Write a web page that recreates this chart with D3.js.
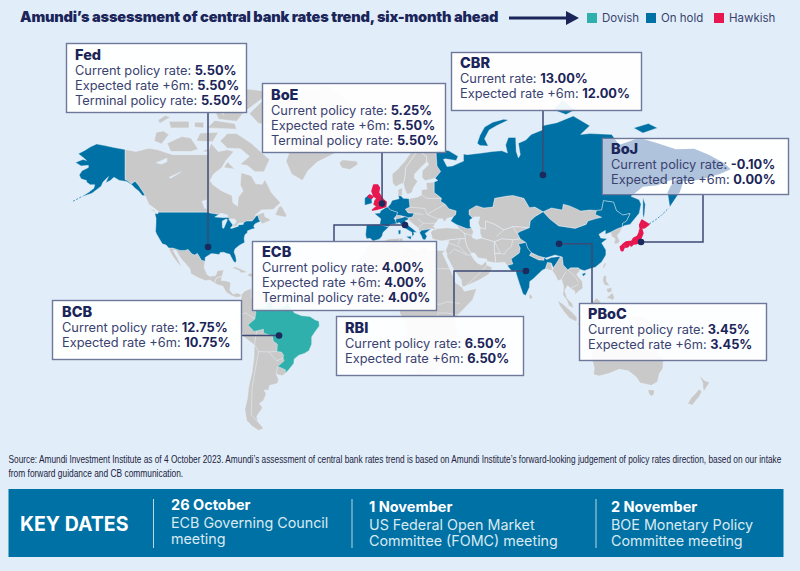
<!DOCTYPE html>
<html><head><meta charset="utf-8">
<script src="https://cdn.jsdelivr.net/npm/d3@7"></script>
<style>html,body{margin:0;padding:0;background:#e1eef9}svg{display:block}</style></head>
<body><svg id="c" width="800" height="571"></svg>
<script>
// ---------- chart data ----------
const bankNames=["Fed","BoE","CBR","BoJ","ECB","BCB","RBI","PBoC"];
const currentLabels=["Current policy rate: ","Current policy rate: ","Current rate: ","Current policy rate: ","Current policy rate: ","Current policy rate: ","Current policy rate: ","Current policy rate: "];
const currentRates=["5.50%","5.25%","13.00%","-0.10%","4.00%","12.75%","6.50%","3.45%"];
const expectedRates=["5.50%","5.50%","12.00%","0.00%","4.00%","10.75%","6.50%","3.45%"];
const terminalRates=["5.50%","5.50%",null,null,"4.00%",null,null,null];
const bankAnchors=[[-95.6,33],[-0.5,52.2],[87.4,61.7],[141,35.5],[12,43.2],[-56.8,-13.2],[78.1,20.9],[96.2,34.6]];
const legendLabels=["Dovish","On hold","Hawkish"];
const keyDates=["26 October","1 November","2 November"];
const keyEvents=[["ECB Governing Council","meeting"],["US Federal Open Market","Committee (FOMC) meeting"],["BOE Monetary Policy","Committee meeting"]];
const sourceLines=["Source: Amundi Investment Institute as of 4 October 2023. Amundi’s assessment of central bank rates trend is based on Amundi Institute’s forward-looking judgement of policy rates direction, based on our intake","from forward guidance and CB communication."];

// ---------- land shapes, lon/lat ----------
const usa=[[-124.7,48.4],[-123,48.3],[-122.8,49],[-95.2,49],[-94.6,48.7],[-92,48.3],[-89.6,48],[-88.4,48.3],[-84.9,46.9],[-84.5,46.5],[-83.5,46],[-82.5,45.3],[-82.1,43.6],[-82.5,42.6],[-83.1,42],[-82.7,41.7],[-79,42.7],[-79.1,43.4],[-76.8,43.6],[-76.3,44.2],[-74.7,45],[-71.5,45],[-70.3,46.2],[-69.2,47.4],[-68.2,47.3],[-67.8,45.7],[-67,44.8],[-68.5,44.3],[-70,43.7],[-70.7,42.7],[-70,41.7],[-71.5,41.4],[-74,40.6],[-74.2,39.6],[-75.4,38.9],[-75.9,37.2],[-75.6,35.3],[-77,34.6],[-78.6,33.8],[-80.9,32],[-81.4,30.5],[-80.5,28.3],[-80.1,26],[-80.7,25.1],[-81.8,26],[-82.8,27.8],[-83.8,29.5],[-85.3,29.7],[-87,30.4],[-89,30.3],[-89.4,29.2],[-91.5,29.5],[-93.8,29.7],[-95.5,28.8],[-97.2,27.7],[-97.2,25.9],[-99.2,26.4],[-101.4,29.8],[-103,29],[-104.5,29.6],[-106.5,31.8],[-108.2,31.3],[-111,31.3],[-114.8,32.5],[-117.1,32.5],[-118.5,34],[-120.6,34.6],[-122,36.7],[-123.8,39.3],[-124.3,40.4],[-124.1,43],[-124,46.2]];
const alaska=[[-141,69.6],[-141,60.3],[-139.5,59.9],[-137.5,58.9],[-135.5,59.8],[-133.5,58.4],[-131,56],[-130,55],[-131.5,55],[-133.5,56.5],[-135.5,57.5],[-137,58.5],[-140,59.7],[-144,60],[-147,61],[-149,60],[-151.5,59.3],[-150,61.2],[-153,59.5],[-154,58.2],[-156.5,57],[-159,55.8],[-163,54.9],[-165,54.5],[-161,56],[-158,57.5],[-157.5,58.7],[-160,58.7],[-162,59.5],[-162,60],[-165,60.5],[-166,61.7],[-164.5,63],[-161,64],[-161,64.7],[-165,64.5],[-168,65.6],[-164,66.5],[-162,66.2],[-163.5,67],[-166.5,68.3],[-163,69.3],[-160,70.4],[-156.5,71.3],[-152,70.8],[-147,70.2]];
const canada=[[-141,69.6],[-135,69],[-128,70],[-123,69.5],[-115,68],[-108,68],[-100,68],[-96,68],[-94,71.5],[-90,69],[-85,69.5],[-81.5,69],[-86,66],[-88,64],[-92.5,62],[-94.5,60],[-93,58.7],[-88,56.5],[-82.5,55],[-82,52.5],[-79.5,51.3],[-79,54.5],[-76.5,56.5],[-78,58.7],[-77.5,62.4],[-72,61.5],[-69.5,59],[-66,58.8],[-64.5,60.3],[-61,56],[-56,52.5],[-60,50.2],[-66.5,50],[-70,47.5],[-65,49],[-64.5,47],[-61,45.5],[-66,43.7],[-67,44.8],[-67.8,45.7],[-68.2,47.3],[-69.2,47.4],[-70.3,46.2],[-71.5,45],[-74.7,45],[-76.3,44.2],[-79.1,43.4],[-79,42.7],[-82.7,41.7],[-82.5,42.6],[-82.1,43.6],[-82.5,45.3],[-84.5,46.5],[-84.9,46.9],[-88.4,48.3],[-89.6,48],[-92,48.3],[-94.6,48.7],[-95.2,49],[-122.8,49],[-123,49.5],[-128,52],[-130,55],[-131,56],[-133.5,58.4],[-135.5,59.8],[-137.5,58.9],[-139.5,59.9],[-141,60.3]];
const baffin=[[-80,73.7],[-72,71.5],[-67,69],[-62,66.5],[-65,62.7],[-70,62.7],[-74,64.6],[-78,65],[-73,67.5],[-78,69.8],[-85,70],[-89,72],[-85,73.7]];
const victoria=[[-105,69],[-101,69.7],[-105,72.7],[-110,73],[-118,71.5],[-116,69]];
const banks=[[-125,72],[-121,71.3],[-117,73.5],[-120,74.3],[-124,74]];
const ellesmere=[[-90,77],[-80,76.5],[-76,78.5],[-65,81.5],[-62,82.5],[-75,83],[-90,81.5],[-92,79]];
const devon=[[-96,75],[-80,74.7],[-81,76],[-92,76.7]];
const melville=[[-116,75],[-106,75],[-106,76.5],[-117,76.5]];
const somerset=[[-102,72],[-93,71.8],[-90,74],[-100,73.8]];
const southampton=[[-87,64],[-81,63.5],[-85,65.8]];
const axelHeiberg=[[-95,80],[-87,78],[-88,80],[-95,81.3]];
const princePatrick=[[-122,76],[-116,77.5],[-119,77.8],[-123,76.8]];
const kingWilliam=[[-99,69],[-95.5,68.8],[-96,69.8]];
const bathurst=[[-103,75.2],[-98,75],[-98,76.3],[-103,76.3]];
const newfoundland=[[-59,47.7],[-53,46.7],[-52.7,47.7],[-55.5,51.5],[-57,51]];
const vancouver=[[-128.3,50.7],[-123.5,48.4],[-125,50]];
const greenland=[[-73,78.2],[-68,76],[-58,75.5],[-54,70],[-51,69],[-53,66],[-50,62],[-44,60],[-41,63],[-36,65.7],[-26,68.5],[-22,70.5],[-20,74],[-19,78],[-18,80.5],[-30,83.5],[-45,82.5],[-60,82],[-66,80.8]];
const iceland=[[-24,65.5],[-22,66.4],[-18,66.2],[-14.5,66],[-13.6,65],[-18,63.4],[-22.5,63.9]];
const mexico=[[-117.1,32.5],[-114.8,32.5],[-111,31.3],[-108.2,31.3],[-106.5,31.8],[-104.5,29.6],[-103,29],[-101.4,29.8],[-99.2,26.4],[-97.2,25.9],[-97.7,22.5],[-96,19],[-94.5,18.2],[-91.5,18.5],[-90.5,21],[-87,21.5],[-87.8,18.3],[-89.2,17.8],[-91,17.2],[-92.2,14.6],[-94.5,16.2],[-97,15.9],[-101,17.4],[-105,19.5],[-105.5,22],[-109,25.8],[-111,28],[-113,31.2],[-114.8,31.5],[-112,27],[-110,23],[-112,24.8],[-115,28.5],[-116.5,31]];
const centralAmerica=[[-92.2,14.6],[-91,17.2],[-89.2,17.8],[-87.8,18.3],[-88.5,16],[-86,15.9],[-83.2,15],[-83.7,11],[-82,9],[-79.5,9.6],[-77.4,8.7],[-78,7.5],[-80.5,7.3],[-83,8.3],[-85.8,10],[-87.5,13],[-90,13.7]];
const cuba=[[-85,21.9],[-80.5,23.1],[-75,20.7],[-74.2,20.1],[-77.5,19.9],[-78.5,21],[-82,22.3]];
const hispaniola=[[-74.4,18.4],[-72.8,19.9],[-68.4,18.7],[-70,18.2],[-71.7,17.8]];
const southAmerica=[[-77.4,8.7],[-75.6,10.6],[-72,12],[-71.5,10.8],[-68,10.8],[-64,10.5],[-60,8.5],[-57,6],[-54,5.8],[-51.7,4.2],[-50,1],[-48.5,-1],[-44.5,-2.5],[-40,-2.9],[-37,-4.8],[-35,-5.5],[-34.8,-8],[-37,-11],[-39,-14],[-39,-18],[-40.5,-21.5],[-43,-23],[-46,-24],[-48.5,-26],[-48.8,-28.5],[-52,-32.5],[-53.5,-34],[-55,-34.9],[-58.3,-34.2],[-57,-36.5],[-57.7,-38.2],[-62,-39],[-62.5,-41],[-65,-41],[-63.8,-42.5],[-65.3,-45],[-67.5,-46],[-65.8,-47.5],[-69,-50.5],[-68.3,-52.5],[-65.2,-54.8],[-68,-55.5],[-71.5,-54],[-74.5,-52],[-75.5,-48],[-74,-44],[-73.5,-40],[-71.5,-33],[-70.5,-25],[-70.3,-18.4],[-76,-14],[-79,-8],[-81.2,-6],[-81,-3],[-80,-2.5],[-80.8,0],[-78.7,2],[-77.3,4],[-77.5,7]];
const brazil=[[-51.7,4.2],[-50,1],[-48.5,-1],[-44.5,-2.5],[-40,-2.9],[-37,-4.8],[-35,-5.5],[-34.8,-8],[-37,-11],[-39,-14],[-39,-18],[-40.5,-21.5],[-43,-23],[-46,-24],[-48.5,-26],[-48.8,-28.5],[-52,-32.5],[-53.5,-33.7],[-53.2,-32],[-55.8,-30.8],[-57.6,-30.2],[-54,-27],[-54.6,-25.5],[-54.3,-24],[-55.5,-22.3],[-58,-22],[-57.7,-18],[-60,-16.3],[-60.3,-13.7],[-65.3,-11.8],[-65.3,-9.8],[-70.5,-11],[-73.8,-7.5],[-70,-4.3],[-69.5,-1],[-70,1.7],[-67,1.8],[-64,2],[-64,4],[-60.7,5.1],[-60,1.5],[-57,2],[-54.6,2.3]];
const africa=[[-5.9,35.8],[-2,35.1],[3,36.9],[10,37.3],[11,37],[10.2,34],[12,32.9],[15.5,32.3],[20,31],[20,32.8],[23,32.5],[25,31.5],[32,31.2],[34.2,31.3],[32.5,29.9],[34,27],[37,21],[38.5,18],[39.5,15],[43.2,12.5],[44.5,10.5],[51.2,11.9],[49,6],[44,1],[41,-2],[39,-5],[40.5,-11],[40.5,-15],[35,-20],[35.5,-24],[32.8,-26],[32.5,-28.5],[28,-33],[25,-34],[20,-34.8],[18.3,-34],[17,-29.5],[15,-26.5],[14.5,-22],[11.8,-17],[13.5,-12],[12,-6],[9,-1],[9.5,4],[8.5,4.5],[5.5,4.5],[1,6],[-4,5.2],[-7.5,4.4],[-12,7.5],[-15,11],[-17.5,14.7],[-16,19],[-17,21],[-13,27.5],[-9.7,30],[-9.5,32.5],[-6.8,34.2]];
const madagascar=[[49.3,-12],[50.5,-16],[47.2,-25],[45,-25.5],[43.3,-22],[44.5,-16],[47,-15.5]];
const russia=[[31,69.7],[36,69.2],[41,67.5],[40,66.2],[34,66.7],[33,66.5],[35,64.3],[38,64.5],[40,65],[44,66],[44,68.2],[46,68],[54,68.5],[60,69],[65,69.2],[68,68.5],[67,71],[68.5,72.8],[72.5,72.8],[72.8,69],[74,67],[75,68],[74,71.5],[78,72.2],[81,73.5],[87,74.5],[87,75.5],[95,76.2],[104,77.7],[113,75.5],[108,73.5],[113,73.7],[125,73.5],[129,71],[140,72.7],[150,71.5],[160,69.7],[170,69.8],[178,68],[186,65.5],[190,63.5],[184,62],[175,60.5],[170,60],[164,59.8],[163,57.5],[162,56],[156.7,51],[155.5,56],[157,58],[160,60.5],[155,59.7],[150,58.5],[142,58],[135.5,54.7],[140,53.5],[141,52],[140,48.5],[135,43.5],[132,43],[130.7,42.3],[130.9,44],[133,45],[135,48.4],[131,47.7],[127.5,49.8],[126,52.7],[120.5,53.2],[119.5,50],[116.7,49.8],[113,50],[108,49.5],[106,50.3],[102,51.4],[98.5,52],[98,50],[92,50.7],[87.5,49.2],[83,51],[80,50.8],[77,54],[71,55],[68,54.8],[61,54],[60,51],[55,50.7],[51,51.5],[47,50],[47,48],[49,46.3],[47.5,45.5],[47.7,42.5],[48.5,41.8],[46,41.5],[40,43.5],[37,45],[38.5,47],[39.7,47.9],[40,49.6],[36,50.4],[34,52],[31.5,53],[32,54],[28,56],[28,59.5],[30,60],[28.5,60.7],[31.5,62.8],[29.5,64.5],[29,69]];
const novayaZemlya=[[51.5,71.5],[53,70.8],[57.5,70.7],[55.5,72.5],[58,74.5],[62,75.5],[68.5,76.8],[66,77],[60,76.3],[55.5,75.2],[53,73.3]];
const severnaya=[[93,79],[100,78],[105,79],[98,81]];
const newSiberia=[[137,75],[142,73.8],[150,75],[145,76]];
const sakhalin=[[142,54.3],[143.3,52],[143,49],[142.5,46],[142,48],[142,51]];
const china=[[73.5,39.5],[75,40.3],[80,42],[80.5,45],[83,47],[87.5,49.2],[91,46],[96,42.8],[105,41.7],[111,43.5],[112,45],[116,46],[119.5,46.7],[116,48],[116.7,49.8],[119.5,50],[120.5,53.2],[126,52.7],[127.5,49.8],[131,47.7],[135,48.4],[133,45],[130.9,44],[130.7,42.3],[128,41.5],[124.4,40],[121.5,39],[121.5,40.8],[118,39],[119,37.3],[122.5,37],[119.5,35],[121.8,31.5],[121.8,29],[119.5,25.5],[116,22.8],[113,22],[110,21],[108,21.6],[106.7,22.5],[102.5,22.5],[101,21.5],[98.5,24],[98,28],[94,29],[89,27.5],[85,28.5],[81,30.2],[79,32.5],[78,35.3],[75,37]];
const hainan=[[108.7,19.3],[110.5,20],[110.8,19.3],[109.5,18.2]];
const mongolia=[[87.5,49.2],[92,50.7],[98,50],[98.5,52],[102,51.4],[106,50.3],[108,49.5],[113,50],[116.7,49.8],[116,48],[119.5,46.7],[116,46],[112,45],[111,43.5],[105,41.7],[96,42.8],[91,46]];
const kazakhstan=[[47,48],[47,50],[51,51.5],[55,50.7],[60,51],[61,54],[68,54.8],[71,55],[77,54],[80,50.8],[83,51],[87.5,49.2],[83,47],[80.5,45],[80,42],[71,42.5],[66,41],[61,43.5],[56,45],[56,41.3],[53,42],[52,44],[50,45],[53,46.8],[49,46.3]];
const centralAsia=[[53,42],[56,41.3],[56,45],[61,43.5],[66,41],[71,42.5],[80,42],[75,40.3],[73.5,39.5],[75,37],[71,36.5],[65,37],[61,35.6],[54,37.3],[53,39.5]];
const pakAfghan=[[61,35.6],[65,37],[71,36.5],[75,37],[78,35.3],[74,34.5],[75,32.5],[74.5,30],[70,27],[71,24.5],[68,23.7],[66.5,25.4],[61.6,25],[61,30],[60.8,33]];
const iran=[[44.5,39.5],[48,39.5],[49,37.5],[54,37.3],[61,35.6],[60.8,33],[61,30],[61.6,25],[57,25.8],[56.5,27],[52,27.5],[50,30],[48,30],[46,33],[45,36]];
const turkey=[[26,40],[28,41.5],[35,42],[41.5,41.5],[44.5,39.5],[45,37],[42,37],[36,36.5],[32,36],[29,36.5],[27,37]];
const caucasus=[[40,43.5],[46,41.5],[48.5,41.8],[49.5,40.3],[48.9,38.5],[44.5,39.5],[41.5,41.5]];
const arabia=[[36,36.5],[42,37],[45,37],[45,36],[46,33],[48,30],[48.5,28.5],[50,26.5],[51.5,25],[54,24],[56.3,26],[56.8,24],[59.8,22.5],[57.5,19],[52,16],[45,13],[43.3,12.8],[42.7,16.5],[39,21],[35,28],[34.9,29.5],[34.2,31.3],[35.8,35]];
const india=[[74,34.5],[78,35.3],[79,32.5],[81,30.2],[80,28.8],[85,26.5],[88,26.4],[88,27.8],[89.5,26.8],[92,27.8],[97,28.3],[94.7,24.8],[93,22.5],[92,25],[89.8,25.3],[88.7,22],[87,21.3],[85,19.5],[82,16.7],[80.2,15.5],[80,12.5],[78,8.3],[76.5,9],[74.5,14.5],[72.8,19.5],[72.6,21],[70.5,20.8],[69,22.3],[68,23.7],[71,24.5],[70,27],[74.5,30],[75,32.5]];
const nepal=[[80,28.8],[81,30.2],[85,28.5],[88,27.8],[88,26.4],[85,26.5]];
const bangladesh=[[88.7,22],[89.8,25.3],[92,25],[92.5,21]];
const seAsia=[[92.5,21],[93,22.5],[94.7,24.8],[97,28.3],[98,28],[98.5,24],[101,21.5],[102.5,22.5],[106.7,22.5],[108,21.6],[105.8,19],[108.9,15.5],[109.3,12],[106.8,10.4],[105,8.7],[104.8,10.5],[102.5,12],[100.8,13.3],[99.3,11],[100.5,7],[103.4,4],[104.2,1.4],[101.5,2.8],[100.3,6],[98.3,8.5],[98.7,13],[97.5,16.5],[95.5,15.8],[94.3,18.5]];
const korea=[[124.4,40],[128,41.5],[130.7,42.3],[129.5,40],[128,38.5],[129.4,36],[128.5,34.8],[126.3,34.5],[126.8,37],[125,38]];
const sriLanka=[[80,9.7],[81.8,7.3],[80.5,6],[79.8,7.5]];
const taiwan=[[121,25],[122,25],[120.8,22],[120.1,23]];
const sumatra=[[95.3,5.6],[98,4],[103.7,-1],[106,-3.5],[105.8,-5.8],[102,-4],[99,-0.5],[96.5,3]];
const java=[[105.3,-6.5],[108.5,-6.5],[114.5,-7.8],[114.3,-8.6],[108,-7.8]];
const borneo=[[109,1.5],[111,1.5],[113,3.3],[116.7,7],[119,5],[117.8,1.5],[116,-3.7],[111,-3.3],[109.2,-0.5]];
const sulawesi=[[119.5,0.5],[125,1.5],[121,0.5],[121,-1],[123,-1],[122,-5],[120.5,-3],[120,-5.5],[119,-3]];
const newGuinea=[[131,-0.8],[135,-3.3],[141,-2.6],[146,-5.5],[150.8,-10.5],[147,-9.8],[144,-7.7],[141,-9.1],[138,-8],[138,-5.5],[133,-4],[132,-2.8]];
const luzon=[[120.5,18.5],[122.2,18.4],[122,16],[124,13],[121,13.7],[120,16]];
const mindanao=[[122,7],[125.5,9.7],[126.5,7],[125.3,5.8],[124,6.5]];
const visayas=[[122,11.7],[125,12.5],[125,10.2],[122.8,9.5]];
const timorChain=[[116,-8.5],[125,-8.3],[127,-8.4],[124,-10],[120,-9.5]];
const australia=[[113.7,-22],[114.2,-26],[115.5,-31],[115,-34.3],[118,-35],[123.5,-33.9],[129,-31.7],[134,-32.5],[137.7,-35],[138.5,-35.5],[140.5,-38],[144,-38.5],[146.5,-39],[150,-37.5],[151,-34],[153,-31],[153.2,-26],[150.8,-23],[146.5,-19],[145.5,-15],[143.5,-14],[142.5,-10.8],[141.7,-13],[140.8,-17.5],[137.5,-16],[135.7,-15],[136.8,-12.2],[132.7,-11.5],[130,-13],[129,-15],[125.7,-14],[122.3,-17.5],[119,-20]];
const tasmania=[[144.7,-40.8],[148.3,-40.9],[148,-43],[146.5,-43.6],[145.3,-42.5]];
const nzNorth=[[172.8,-34.5],[175.5,-36.8],[178.5,-37.7],[177,-39.5],[175.3,-41.6],[174.8,-39.8],[174.7,-38]];
const nzSouth=[[172.7,-40.5],[174.2,-41.7],[172.7,-43.8],[171,-45],[169,-46.6],[166.5,-46],[168.5,-44],[171,-42.2]];
const norway=[[5,62],[8,63.5],[12,66],[15,68.5],[20,70],[25,71],[31,69.7],[29,69],[25,68.7],[20,69],[18,68.5],[15,66],[12.5,64],[12,61],[11.2,59],[10,59],[7,58],[5.2,59.3]];
const sweden=[[11.2,59],[12,61],[12.5,64],[15,66],[18,68.5],[20,69],[23.7,67.5],[24,65.8],[21.5,64.5],[17.3,62],[17.2,60.7],[19,59.8],[16.5,57.5],[16,56.2],[14.3,55.5],[13,55.5],[11.7,57.5]];
const finland=[[20,69],[25,68.7],[29,69],[29.5,64.5],[31.5,62.8],[28.5,60.7],[23,59.9],[21.3,61],[21.5,63],[25,65],[24,65.8],[23.7,67.5]];
const denmark=[[8.2,55],[8.2,57],[10.6,57.7],[10.5,55]];
const easternEurope=[[14.2,53.9],[19,54.5],[21,55.2],[21,57],[24,57.2],[23.5,59.3],[28,59.5],[28,56],[32,54],[31.5,53],[34,52],[36,50.4],[40,49.6],[39.7,47.9],[38.5,47],[35,46.2],[33.5,44.5],[32.5,46],[30.5,46],[28.7,44],[27.5,42.5],[29,41.2],[26.2,41.5],[21,40.8],[20,39.7],[19.3,41.8],[13.7,45.6],[13.7,46.5],[16,46.8],[17,48.5],[13.7,48.7],[12.2,50.3],[14.7,51]];
const switzerland=[[6,46.3],[7.5,47.6],[9.6,47.5],[10.3,46.5],[8,46]];
const iberia=[[-9,43.2],[-1.8,43.4],[3.2,42.4],[0,39.8],[-0.5,38.2],[-2,36.8],[-5.5,36],[-7,37.2],[-9,37],[-9.5,38.8]];
const france=[[-1.8,43.4],[-1.2,46],[-4.7,48.4],[-1.6,48.7],[-1.4,49.6],[1.6,50.9],[2.6,51],[4.2,50],[8,49],[7.5,47.6],[6,46.3],[7,45],[7.5,43.8],[4,43.4],[3.2,42.4]];
const germanyBenelux=[[2.6,51],[4,52],[5,53.3],[8.8,53.9],[8.4,55],[10,54.8],[11,54],[14.2,53.9],[14.7,51],[12.2,50.3],[13.7,48.7],[17,48.5],[16,46.8],[13.7,46.5],[12,47],[9.6,47.5],[7.5,47.6],[8,49],[4.2,50]];
const italy=[[7,45.9],[10.3,46.5],[12,47],[13.7,46.5],[13.7,45.6],[12.3,45.3],[12.4,44],[16,41.7],[18.5,40],[16.7,40],[17,39],[16,38],[15.7,40],[12.5,41.5],[10.3,43.3],[8.8,44.4],[7.5,43.8],[7,45]];
const sicily=[[12.5,38],[15.6,38.2],[15.1,36.7]];
const sardinia=[[8.3,40.8],[9.7,41],[9.6,39.2],[8.5,39]];
const greece=[[20,39.7],[21,40.8],[26.2,41.5],[24,40],[23,39.5],[24,38],[23,36.5],[21.7,36.8],[21,38.3]];
const ireland=[[-10,54],[-8,55.2],[-7.3,55.2],[-8,54.5],[-6.2,54],[-6,52.3],[-10,51.6]];
const greatBritain=[[-5,58.6],[-3,58.6],[-2,57.6],[-2.5,56],[-1.5,55],[0,53.6],[1.7,52.7],[1.4,51.2],[-1,50.7],[-3.5,50.3],[-5.7,50],[-3,51.4],[-4.8,52],[-4.2,53.3],[-3,53.9],[-5,54.8],[-6,56.5]];
const northernIreland=[[-7.3,55.2],[-5.5,54.6],[-6.2,54],[-8,54.5]];
const honshu=[[141.3,41.4],[142,39.5],[140.8,37],[140.7,35.6],[138.5,34.7],[136.8,34.5],[135.7,33.5],[135,34.6],[132.3,34],[131,34.2],[132.7,35.5],[136,35.9],[137,37.3],[139,38],[140,39.7],[140.3,41]];
const hokkaido=[[141.5,45.4],[145.3,43.5],[143,42],[140.5,41.8],[140.3,43.3]];
const kyushu=[[130.9,33.9],[131.9,33],[131,31.2],[130.2,31.3],[129.7,33.1]];
const shikoku=[[132.2,33.9],[134.6,34.2],[134,33.3],[132.7,32.9]];
// inland water
const caspian=[[47.5,45.5],[50,47],[53,46.8],[52,44],[53,42],[53,39.5],[54,37.3],[51,36.7],[49,37.5],[49.5,40.3],[48.5,41.8],[47.7,42.5]];
const superior=[[-92,46.8],[-88.5,48.6],[-85,47.8],[-84.7,46.6],[-87.5,46.5]];
const michigan=[[-87.8,42],[-87.9,45],[-85.5,46],[-85,45.5],[-86.3,43],[-87,41.7]];
const huron=[[-84.5,46],[-81,46],[-80,44.6],[-81.7,43.2],[-82.8,44]];
const erie=[[-83.4,41.7],[-79,42.9],[-80,42.9],[-83,42.3]];
const ontario=[[-79.7,43.3],[-76.3,43.5],[-76.3,44.2],[-79,44]];
const greatBear=[[-124,65.5],[-118,67],[-118,65.8],[-121,65]];
const greatSlave=[[-117,61],[-110,62.8],[-112,62],[-116,60.7]];
const winnipeg=[[-99,53],[-96.5,53.5],[-96.5,50.5],[-97.5,50.5]];
const grayLand=[canada,baffin,victoria,banks,ellesmere,devon,melville,somerset,southampton,axelHeiberg,princePatrick,kingWilliam,bathurst,newfoundland,vancouver,greenland,iceland,mexico,centralAmerica,cuba,hispaniola,southAmerica,africa,madagascar,mongolia,kazakhstan,centralAsia,pakAfghan,iran,turkey,caucasus,arabia,nepal,bangladesh,seAsia,korea,sriLanka,taiwan,sumatra,java,borneo,sulawesi,newGuinea,luzon,mindanao,visayas,timorChain,australia,tasmania,nzNorth,nzSouth,norway,sweden,finland,denmark,easternEurope,switzerland];
const holdLand=[usa,alaska,russia,novayaZemlya,severnaya,newSiberia,sakhalin,china,hainan,india,iberia,france,germanyBenelux,italy,sicily,sardinia,greece,ireland];
const dovishLand=[brazil];
const hawkishLand=[greatBritain,northernIreland,honshu,hokkaido,kyushu,shikoku];
const waterBodies=[caspian,superior,michigan,huron,erie,ontario,greatBear,greatSlave,winnipeg];
// thin inner borders
const innerBorders=[
 [[-70.3,-18.4],[-69,-10.9]],[[-70.3,-18.4],[-68,-22],[-70,-33],[-71.5,-40],[-72,-50],[-68.3,-52.5]],[[-58,-22],[-62.6,-22.2],[-68,-22]],[[-57.6,-30.2],[-58.3,-34.2]],[[-54.6,-25.5],[-58,-27],[-62.6,-22.2]],[[-80,-2.5],[-75,-1],[-70,-4.3]],[[-72,12],[-72,7],[-67,1.8]],[[-60.7,5.1],[-60,8.5]],[[-57,2],[-57,6]],[[-54.6,2.3],[-54,5.8]],
 [[25,31.5],[25,22],[37,22]],[[25,22],[24,15],[23,10],[28,4],[31,3.5],[35,5],[42,4]],[[12,23],[10,30],[9,37]],[[-9,27.7],[-2,32],[-1.5,35]],[[-12,23],[-5,25],[12,13],[15,13],[15,23],[25,20]],[[-12,15],[-6,15],[4,15]],[[14.5,-18],[24,-18],[30,-15.5],[40.5,-11]],[[30,-8],[30,-1],[34,-1],[41,-2]],[[12,-5],[22,-10],[30,-15.5]],[[20,-28],[20,-18]],
 [[21,55.2],[24,54],[32,54]],[[14.7,51],[23,50.5],[24,48],[34,52]],[[24,48],[30,46]],[[22,48],[17,48.5]],[[22,44],[28.7,44]],[[19.3,41.8],[22,44],[19,46]],
 [[22,41],[29,41.2]],[[35.8,35],[42,33],[46,29],[48,29]],[[45,13],[52,19],[55,22],[56.8,24]],[[36,29.5],[39,32],[46,29]],[[42,37],[41,34]],
 [[61,35.6],[64,30],[61,29.8]],[[71,36.5],[70,33],[67,31],[66.5,29.5],[61,29.8]],[[66,41],[62,38]],[[71,42.5],[73,39.5]],
 [[97.5,16.5],[100,20.5]],[[101,21.5],[105,18],[107,15]],[[102.5,12],[107,14]],[[100.5,7],[102,6]]
];
const kurils=[[145.5,43.8],[148,45],[152,47.5],[156,50.6]];
const aleutians=[[-165,54.5],[-170,52.8]];

// ---------- scales ----------
const xMap=d3.scaleLinear().domain([-180,190]).range([383-180*1.83,383+190*1.83]);
const yMap=d3.scaleLinear()
  .domain([-60,-55,-46.5,-43.5,-33.7,-7.5,0,8,25,36,50,58.6,71.3,77.5,81,83.5])
  .range([444,429,405,396,373,325,311,296,263,241,210,185,144,117,100,86]);
const ring=d3.line().x(d=>xMap(d[0])).y(d=>yMap(d[1])).curve(d3.curveLinearClosed);
const path=d3.line().x(d=>xMap(d[0])).y(d=>yMap(d[1]));

const statusColor=d3.scaleOrdinal().domain(["none",...legendLabels]).range(["#c9c9c9","#2fb0ad","#0071a4","#e8174f"]);
const navy="#1b2559", ink="#3a426f", boxLine="#6e789b", bg="#e1eef9";
const svg=d3.select("#c");
svg.append("rect").attr("width",800).attr("height",571).attr("fill",bg);

// ---------- map ----------
const drawLand=(shapes,status,sw)=>svg.append("g").selectAll("path").data(shapes).join("path")
  .attr("d",ring).attr("fill",statusColor(status)).attr("stroke",sw>1?statusColor(status):"#eaf1f8").attr("stroke-width",sw).attr("stroke-linejoin","round");
drawLand(grayLand,"none",0.5);
svg.append("g").selectAll("path").data(innerBorders).join("path").attr("d",path).attr("fill","none").attr("stroke","#e6edf3").attr("stroke-width",0.6);
drawLand(holdLand,"On hold",0.4);
drawLand(dovishLand,"Dovish",0.4);
drawLand(hawkishLand,"Hawkish",1.6);
svg.append("g").selectAll("path").data(waterBodies).join("path").attr("d",ring).attr("fill",bg).attr("stroke",bg).attr("stroke-width",0.3);
svg.append("g").selectAll("path").data([kurils,aleutians]).join("path").attr("d",path).attr("fill","none").attr("stroke","#0071a4").attr("stroke-width",0.7).attr("stroke-dasharray","2 1.5");

// ---------- leaders and boxes (layout) ----------
const boxLayout=[
 {x:66,y:43,w:180,h:69,tx:75,ty:60,op:0.97,via:[[208,112],[208,"a"]]},
 {x:262,y:83,w:183,h:69,tx:271,ty:100,op:0.94,via:[[382,152]]},
 {x:451,y:52,w:190,h:58,tx:460,ty:68,op:0.94,via:[[543,110]]},
 {x:602,y:138,w:186,h:56,tx:611,ty:154,op:0.97,via:[[703,194],[703,"a"]]},
 {x:252,y:241,w:184,h:69,tx:262,ty:257,op:0.92,via:[[334,241],[334,"a"]]},
 {x:52,y:300,w:189,h:59,tx:62,ty:317,op:0.97,via:[[241,"a"]]},
 {x:336,y:316,w:187,h:59,tx:345,ty:333,op:0.92,via:[[454,316],[454,"a"]]},
 {x:579,y:303,w:187,h:57,tx:588,ty:319,op:0.92,via:[[592,303],[592,"a"]]}
];
const anchorXY=bankAnchors.map(a=>[xMap(a[0]),yMap(a[1])]);
const leaders=boxLayout.map((b,i)=>[...b.via.map(p=>[p[0],p[1]==="a"?anchorXY[i][1]:p[1]]),anchorXY[i]]);
svg.append("g").selectAll("path").data(leaders).join("path").attr("d",d3.line()).attr("fill","none").attr("stroke","#3c4a75").attr("stroke-width",1.5);
const fs=12.8;
const boxes=svg.append("g").selectAll("g").data(bankNames).join("g");
const boxRect=sel=>sel.attr("x",(d,i)=>boxLayout[i].x+.5).attr("y",(d,i)=>boxLayout[i].y+.5).attr("width",(d,i)=>boxLayout[i].w).attr("height",(d,i)=>boxLayout[i].h);
boxes.append("rect").call(boxRect).attr("fill","#fff").attr("fill-opacity",(d,i)=>boxLayout[i].op).attr("stroke",boxLine).attr("stroke-width",1.4);
// land seen through the translucent BoJ panel
const boj=boxLayout[bankNames.indexOf("BoJ")];
svg.append("clipPath").attr("id","bojClip").append("rect").attr("x",boj.x+1).attr("y",boj.y+1).attr("width",boj.w-1).attr("height",boj.h-1);
svg.append("path").attr("d",ring(russia)).attr("fill","#afc3dc").attr("clip-path","url(#bojClip)");
svg.append("g").selectAll("circle").data(anchorXY).join("circle").attr("cx",d=>d[0]).attr("cy",d=>d[1]).attr("r",3.3).attr("fill","#1b2a5c");
const font="Inter, 'Open Sans', sans-serif";
const row=(g,x,y,label,val)=>{const t=g.append("text").attr("x",x).attr("y",y).attr("font-family",font).attr("font-size",fs).attr("fill",ink);
  t.append("tspan").text(label);t.append("tspan").attr("font-weight",700).attr("fill",navy).text(val);};
const textLayer=svg.append("g");
bankNames.forEach((n,i)=>{const b=boxLayout[i],g=textLayer.append("g");
  g.append("text").attr("x",b.tx).attr("y",b.ty).attr("font-family",font).attr("font-size",14.5).attr("font-weight",800).attr("fill",navy).text(n);
  row(g,b.tx,b.ty+15.3,currentLabels[i],currentRates[i]);
  row(g,b.tx,b.ty+30.3,"Expected rate +6m: ",expectedRates[i]);
  if(terminalRates[i])row(g,b.tx,b.ty+45.3,"Terminal policy rate: ",terminalRates[i]);
});

// ---------- header ----------
svg.append("text").attr("x",20).attr("y",22).attr("font-family",font).attr("font-size",14.6).attr("font-weight",900).attr("fill",navy).attr("letter-spacing",-0.2)
 .text("Amundi’s assessment of central bank rates trend, six-month ahead");
svg.append("path").attr("d",d3.line()([[509,16.5],[566,16.5],[566,11],[579,18],[566,25],[566,19.5],[509,19.5]])).attr("fill",navy);
const legX=[587,646,714];
const legColors=legendLabels.map(d=>statusColor(d));
svg.append("g").selectAll("rect").data(legendLabels).join("rect").attr("x",(d,i)=>legX[i]).attr("y",13).attr("width",10).attr("height",10).attr("fill",(d,i)=>legColors[i]);
svg.append("g").selectAll("text").data(legendLabels).join("text").attr("x",(d,i)=>legX[i]+15).attr("y",22).attr("font-family",font).attr("font-size",11.5).attr("fill",ink).text(d=>d);

// ---------- footer ----------
const srcWidth=[774,175];
svg.append("g").selectAll("text").data(sourceLines).join("text")
 .attr("font-family","'Liberation Sans',sans-serif").attr("font-size",11).attr("fill","#1c2240").text(d=>d)
 .attr("transform",function(d,i){return `translate(8.5,${463+i*14}) scale(${srcWidth[i]/this.getComputedTextLength()},1)`;});
svg.append("rect").attr("x",8.5).attr("y",489).attr("width",775).attr("height",68).attr("fill","#0071a4");
svg.append("text").attr("x",20).attr("y",531).attr("font-family",font).attr("font-size",19.5).attr("font-weight",700).attr("fill","#fff").text("KEY DATES");
const sepX=[153.5,352,596], colX=[171,369,611], colY=[510,512,512];
svg.append("g").selectAll("line").data(sepX).join("line").attr("x1",d=>d).attr("x2",d=>d).attr("y1",499).attr("y2",548).attr("stroke","#bcd6e6").attr("stroke-width",1);
keyDates.forEach((d,i)=>{
  svg.append("text").attr("x",colX[i]).attr("y",colY[i]).attr("font-family",font).attr("font-size",14.5).attr("font-weight",700).attr("fill","#fff").text(d);
  keyEvents[i].forEach((e,j)=>svg.append("text").attr("x",colX[i]).attr("y",colY[i]+17.5+j*16).attr("font-family",font).attr("font-size",14.3).attr("fill","#d9e9f2").text(e));
});
</script></body></html>
